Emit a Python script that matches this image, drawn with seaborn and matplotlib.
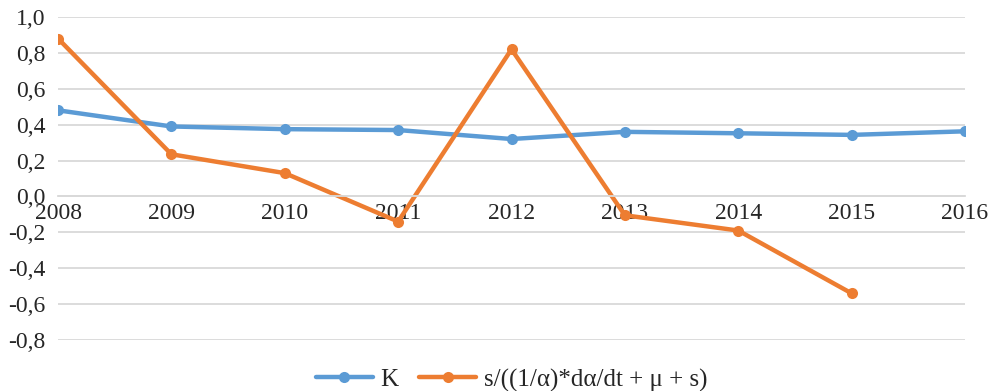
import numpy as np
import pandas as pd
import seaborn as sns
import matplotlib.pyplot as plt
from matplotlib.ticker import FuncFormatter

years = [2008, 2009, 2010, 2011, 2012, 2013, 2014, 2015, 2016]
k_values = [0.48, 0.39, 0.375, 0.37, 0.32, 0.36, 0.352, 0.343, 0.363]
ratio_values = [0.88, 0.235, 0.13, -0.14, 0.82, -0.105, -0.19, -0.54, np.nan]
series_names = ["K", "s/((1/α)*dα/dt + μ + s)"]
colors = ["#5B9BD5", "#ED7D31"]

df = pd.DataFrame({
    "year": years * 2,
    "value": k_values + ratio_values,
    "series": [series_names[0]] * len(years) + [series_names[1]] * len(years),
})

sns.set_style("white")
plt.rcParams["font.family"] = ["Liberation Serif", "DejaVu Serif"]

fig = plt.figure(figsize=(9.97, 3.91), dpi=100)
ax = fig.add_axes([58 / 997, 1 - 340 / 391, (965 - 58) / 997, (340 - 17) / 391])

sns.lineplot(data=df.dropna(), x="year", y="value", hue="series",
             palette=colors, marker="o", markersize=8, markeredgewidth=0,
             linewidth=3.2, ax=ax, legend=True)

ax.set_xlim(2008, 2016)
ax.set_ylim(-0.8, 1.0)
ax.set_yticks(np.arange(-0.8, 1.01, 0.2))
ax.yaxis.set_major_formatter(FuncFormatter(lambda v, p: f"{v:.1f}".replace(".", ",").replace("-0,0", "0,0")))
ax.set_xticks(years)
ax.grid(axis="y", color="#d9d9d9", linewidth=1.3)
ax.set_axisbelow(True)
for s in ["top", "right", "left"]:
    ax.spines[s].set_visible(False)
ax.spines["bottom"].set_position(("data", 0))
ax.spines["bottom"].set_color("#d9d9d9")
ax.spines["bottom"].set_linewidth(1.3)
ax.tick_params(axis="both", length=0, labelsize=17)
ax.tick_params(axis="x", pad=5)
ax.tick_params(axis="y", pad=9)
ax.set_xlabel("")
ax.set_ylabel("")

handles, labels = ax.get_legend_handles_labels()
ax.legend(handles, labels, loc="center", bbox_to_anchor=(0.5, (340 - 380) / 323),
          ncol=2, frameon=False, fontsize=18, handlelength=2.3,
          columnspacing=0.8, handletextpad=0.3)

fig.savefig("out.png", dpi=100)
